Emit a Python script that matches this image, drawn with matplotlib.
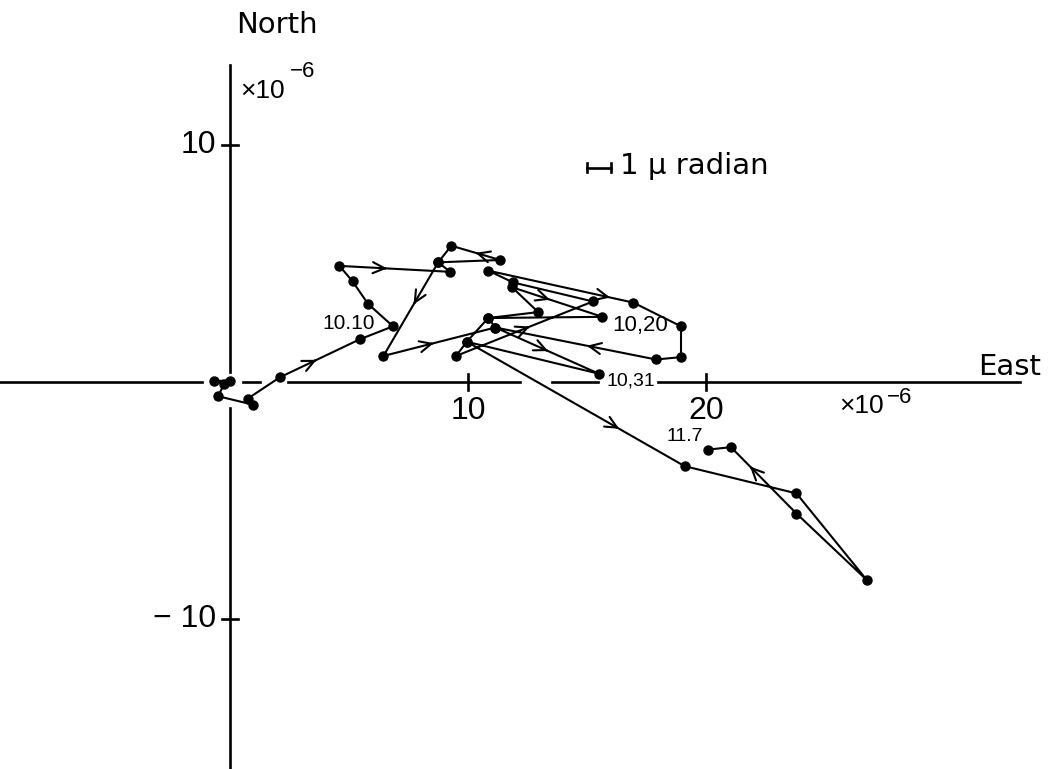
import matplotlib.pyplot as plt

plt.rcParams['font.family'] = ['Liberation Sans', 'DejaVu Sans']

# tilt path (x East, y North, units of 1e-6 rad)
east = [0.0, -0.65, -0.25, -0.5, 0.95, 0.75, 2.1, 5.45, 6.85, 5.8, 5.15, 4.6,
        9.25, 8.75, 11.35, 9.3, 8.75, 6.45, 11.15, 10.85, 12.95, 11.85, 15.65,
        10.85, 9.95, 9.5, 15.25, 11.9, 10.85, 16.95, 18.95, 18.95, 17.9, 11.15,
        15.5, 9.95, 19.1, 23.8, 26.75, 23.8, 21.05, 20.1]
north = [0.05, 0.05, -0.1, -0.6, -0.95, -0.7, 0.2, 1.8, 2.35, 3.3, 4.25, 4.9,
         4.65, 5.05, 5.15, 5.75, 5.05, 1.1, 2.3, 2.7, 2.95, 4.0, 2.75,
         2.7, 1.7, 1.1, 3.4, 4.2, 4.7, 3.35, 2.35, 1.05, 0.95, 2.3,
         0.35, 1.7, -3.55, -4.7, -8.35, -5.55, -2.75, -2.85]

# dates written next to some of the points
date_idx = [8, 22, 34, 41]
date_txt = ['10.10', '10,20', '10,31', '11.7']

# segments carrying a direction arrow, with the position along the segment
arrow_seg = [6, 11, 14, 16, 17, 21, 25, 28, 32, 33, 35, 39]
arrow_pos = [0.46, 0.43, 0.5, 0.45, 0.45, 0.42, 0.54, 0.84, 0.43, 0.51, 0.7, 0.71]

fig = plt.figure(figsize=(10.54, 7.69), dpi=100)
ax = fig.add_axes([0, 0, 1, 1])
ax.set_xlim(-9.66, 34.62)
ax.set_ylim(-16.33, 16.12)
ax.axis('off')

k = 'black'
lw = 1.9

# axes drawn by hand, broken where the labels sit
for a, b in [(-9.66, -1.18), (2.44, 12.18), (13.53, 15.46), (17.98, 33.19)]:
    ax.plot([a, b], [0, 0], color=k, lw=lw)
ax.plot([0.55, 1.26], [0, 0], color=k, lw=lw)
ax.plot([0, 0], [13.38, 0.42], color=k, lw=lw)
ax.plot([0, 0], [-1.1, -16.4], color=k, lw=lw)
for t in [10, 20]:
    ax.plot([t, t], [-0.35, 0.35], color=k, lw=lw)
    ax.text(t, -1.55, str(t), ha='center', va='baseline', fontsize=23)
for t in [10, -10]:
    ax.plot([-0.35, 0.35], [t, t], color=k, lw=lw)
    ax.text(-0.6, t, str(t).replace('-', '\u2212 '), ha='right', va='center', fontsize=23)

ax.text(0.25, 15.05, 'North', ha='left', va='center', fontsize=21, family='DejaVu Sans')
ax.text(34.1, 0.3, 'East', ha='right', va='baseline', fontsize=21, family='DejaVu Sans')
ax.text(0.45, 11.98, '\u00d710', ha='left', va='baseline', fontsize=19)
ax.text(2.5, 12.85, '\u22126', ha='left', va='baseline', fontsize=16)
ax.text(25.6, -1.31, '\u00d710', ha='left', va='baseline', fontsize=19)
ax.text(27.6, -0.9, '\u22126', ha='left', va='baseline', fontsize=16)

# 1 micro-radian scale bar
ax.plot([15.0, 16.0], [9.05, 9.05], color=k, lw=lw)
ax.plot([15.0, 15.0], [8.85, 9.25], color=k, lw=lw)
ax.plot([16.0, 16.0], [8.85, 9.25], color=k, lw=lw)
ax.text(16.4, 9.1, '1 \u00b5 radian', ha='left', va='center', fontsize=21, family='DejaVu Sans')

# the path itself
ax.plot(east, north, color=k, lw=1.5, marker='o', ms=6.5, zorder=3)

for i, f in zip(arrow_seg, arrow_pos):
    x0, y0 = east[i], north[i]
    x1, y1 = east[i + 1], north[i + 1]
    xa, ya = x0 + (x1 - x0) * f, y0 + (y1 - y0) * f
    xb, yb = x0 + (x1 - x0) * (f - 0.02), y0 + (y1 - y0) * (f - 0.02)
    ax.annotate('', xy=(xa, ya), xytext=(xb, yb),
                arrowprops=dict(arrowstyle='->,head_length=0.85,head_width=0.4',
                                color=k, lw=1.5, shrinkA=0, shrinkB=0))

ax.text(6.1, 2.49, date_txt[0], ha='right', va='center', fontsize=15)
ax.text(16.05, 2.4, date_txt[1], ha='left', va='center', fontsize=16)
ax.text(15.84, 0.04, date_txt[2], ha='left', va='center', fontsize=14)
ax.text(19.87, -2.32, date_txt[3], ha='right', va='center', fontsize=14)

fig.savefig('out.png', dpi=100)
